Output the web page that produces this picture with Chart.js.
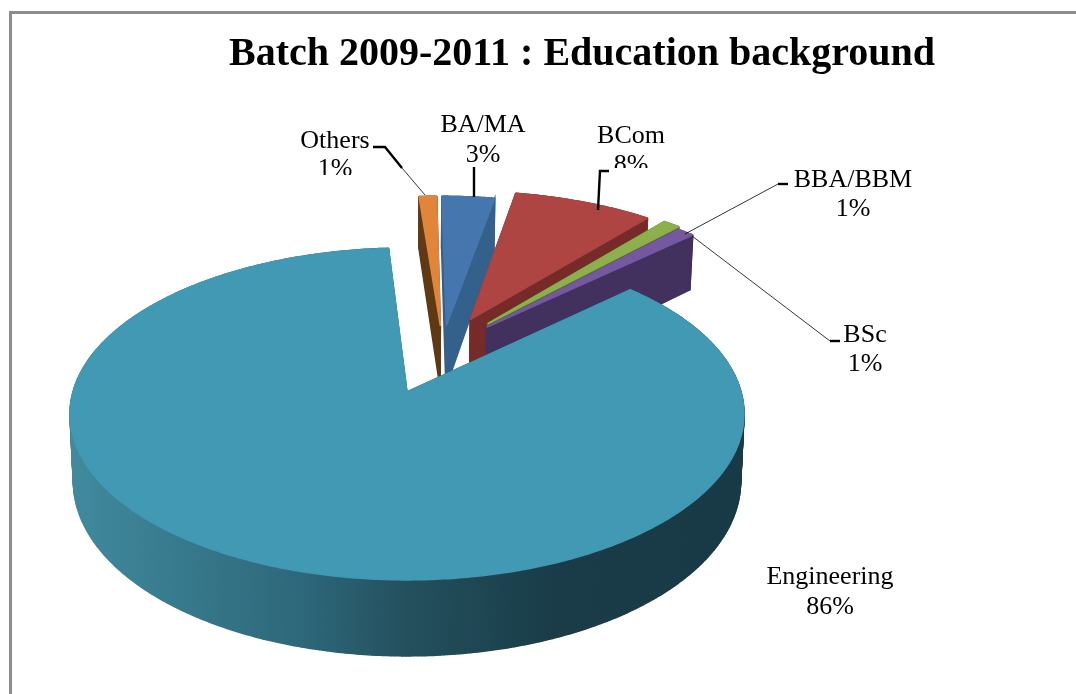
<!DOCTYPE html>
<html>
<head>
<meta charset="utf-8">
<script src="https://cdn.jsdelivr.net/npm/chart.js@4/dist/chart.umd.min.js"></script>
<style>
  body { margin: 0; background: #fff; }
  #frame { position: absolute; left: 9px; top: 11px; width: 1067px; height: 683px; box-sizing: border-box;
           border-left: 3px solid #8c8c8c; border-top: 3px solid #8c8c8c; }
  #chart { position: absolute; left: 0; top: 0; }
</style>
</head>
<body>
<div id="frame"></div>
<canvas id="chart" width="1076" height="694"></canvas>
<script>
const categories = ['BA/MA', 'BCom', 'BBA/BBM', 'BSc', 'Engineering', 'Others'];
const percents = [3, 8, 1, 1, 86, 1];

const topColors = ['#4676ae', '#ae4543', '#8bb04c', '#7558a0', '#4199b3', '#e0853a'];
const sideColors = ['#33618b', '#772b29', '#5a7a2c', '#42305f', '#2a6070', '#5f3914'];
const explode = [200, 285, 294, 267, 400, 200]; // arc offset option, divided by 4 when drawn

// where each label goes: centre x, y of first line, y of second line
const labelX = [483, 631, 853, 865, 830, 335];
const labelY1 = [125, 136, 180, 335, 577, 141];
const labelY2 = [155, 165, 209, 364, 607, 169];
// the percent text is cut off at this y in the source picture
const percentCut = [null, 168, null, null, null, 175];

// leader lines
const leaders = [
  { thick: [[474, 167], [474, 197]], thin: [] },
  { thick: [[609, 171], [600, 171], [598, 210]], thin: [] },
  { thick: [[788, 184], [778, 184]], thin: [[778, 184], [685, 234]] },
  { thick: [[840, 341], [830, 341]], thin: [[830, 341], [692, 236]] },
  { thick: [], thin: [] },
  { thick: [[373, 147], [385, 147], [402, 168]], thin: [[402, 168], [425, 195]] }
];

// 3d view, a perspective of the pie plane
const view = { apexX: 407, apexY: 392, flat: 163, persp: 0.1325, depth: 66, depthTilt: 10, bottomShrink: 0.99 };

const pie3d = {
  id: 'pie3d',
  beforeDatasetDraw(chart) {
    const ctx = chart.ctx;
    const arcs = chart.getDatasetMeta(0).data;
    const R = arcs[0].outerRadius;

    const shift = (arc) => {
      const mid = (arc.startAngle + arc.endAngle) / 2;
      const off = arc.options.offset / 4;
      return { x: Math.cos(mid) * off / R, y: Math.sin(mid) * off / R };
    };
    const base = shift(arcs[4]);
    const project = (u, v) => {
      const w = 1 - view.persp * v;
      return { x: view.apexX + R * u / w, y: view.apexY + view.flat * v / w, v };
    };
    const lower = (p) => ({
      x: view.apexX + (p.x - view.apexX) * view.bottomShrink,
      y: p.y + view.depth + view.depthTilt * p.v
    });

    const sideGrad = ctx.createLinearGradient(69, 0, 743, 0);
    sideGrad.addColorStop(0, '#418a9e');
    sideGrad.addColorStop(0.35, '#2d6779');
    sideGrad.addColorStop(0.5, '#24505e');
    sideGrad.addColorStop(0.72, '#193c48');
    sideGrad.addColorStop(1, '#183a47');

    [0, 1, 5, 2, 3, 4].forEach((i) => {
      const arc = arcs[i];
      const s = shift(arc);
      const cu = s.x - base.x;
      const cv = s.y - base.y;
      const pts = [project(cu, cv)];
      const steps = Math.max(2, Math.ceil((arc.endAngle - arc.startAngle) / 0.01));
      for (let k = 0; k <= steps; k++) {
        const a = arc.startAngle + (arc.endAngle - arc.startAngle) * k / steps;
        pts.push(project(cu + Math.cos(a), cv + Math.sin(a)));
      }
      // side walls, back to front
      const edges = pts.map((p, k) => [p, pts[(k + 1) % pts.length]]);
      edges.sort((a, b) => (a[0].y + a[1].y) - (b[0].y + b[1].y));
      const side = i === 4 ? sideGrad : sideColors[i];
      ctx.fillStyle = side;
      ctx.strokeStyle = side;
      ctx.lineWidth = 1.5;
      edges.forEach(([p, q]) => {
        const lp = lower(p);
        const lq = lower(q);
        ctx.beginPath();
        ctx.moveTo(p.x, p.y);
        ctx.lineTo(q.x, q.y);
        ctx.lineTo(lq.x, lq.y);
        ctx.lineTo(lp.x, lp.y);
        ctx.closePath();
        ctx.fill();
        ctx.stroke();
      });
      // top face, stroked in its own colour to cover the wall fringe
      ctx.fillStyle = arc.options.backgroundColor;
      ctx.strokeStyle = arc.options.backgroundColor;
      ctx.lineWidth = 1.5;
      ctx.lineJoin = 'bevel';
      ctx.beginPath();
      pts.forEach((p, k) => (k ? ctx.lineTo(p.x, p.y) : ctx.moveTo(p.x, p.y)));
      ctx.closePath();
      ctx.fill();
      ctx.stroke();
    });
    return false;
  },
  afterDraw(chart) {
    const ctx = chart.ctx;
    ctx.save();
    ctx.strokeStyle = '#000';
    ctx.lineJoin = 'miter';
    const stroke = (line, width) => {
      if (!line.length) return;
      ctx.lineWidth = width;
      ctx.beginPath();
      line.forEach((p, k) => (k ? ctx.lineTo(p[0], p[1]) : ctx.moveTo(p[0], p[1])));
      ctx.stroke();
    };
    leaders.forEach((l) => {
      stroke(l.thin, 0.8);
      stroke(l.thick, 2.4);
    });
    ctx.fillStyle = '#000';
    ctx.font = '26px "Liberation Serif"';
    ctx.textAlign = 'center';
    ctx.textBaseline = 'middle';
    categories.forEach((name, i) => {
      ctx.fillText(name, labelX[i], labelY1[i]);
      ctx.save();
      if (percentCut[i] !== null) {
        ctx.beginPath();
        ctx.rect(labelX[i] - 40, labelY2[i] - 30, 80, percentCut[i] - labelY2[i] + 30);
        ctx.clip();
      }
      ctx.fillText(percents[i] + '%', labelX[i], labelY2[i]);
      ctx.restore();
    });
    ctx.restore();
  }
};

new Chart(document.getElementById('chart'), {
  type: 'pie',
  data: {
    labels: categories,
    datasets: [{ data: percents, backgroundColor: topColors, borderWidth: 0, offset: explode }]
  },
  plugins: [pie3d],
  options: {
    responsive: false,
    animation: false,
    radius: 334,
    layout: { padding: { left: 88 } },
    plugins: {
      legend: { display: false },
      tooltip: { enabled: false },
      title: {
        display: true,
        text: 'Batch 2009-2011 : Education background',
        color: '#000',
        font: { family: '"Liberation Serif"', size: 40, weight: 'bold' },
        padding: { top: 31, bottom: 10 }
      }
    }
  }
});
</script>
</body>
</html>
